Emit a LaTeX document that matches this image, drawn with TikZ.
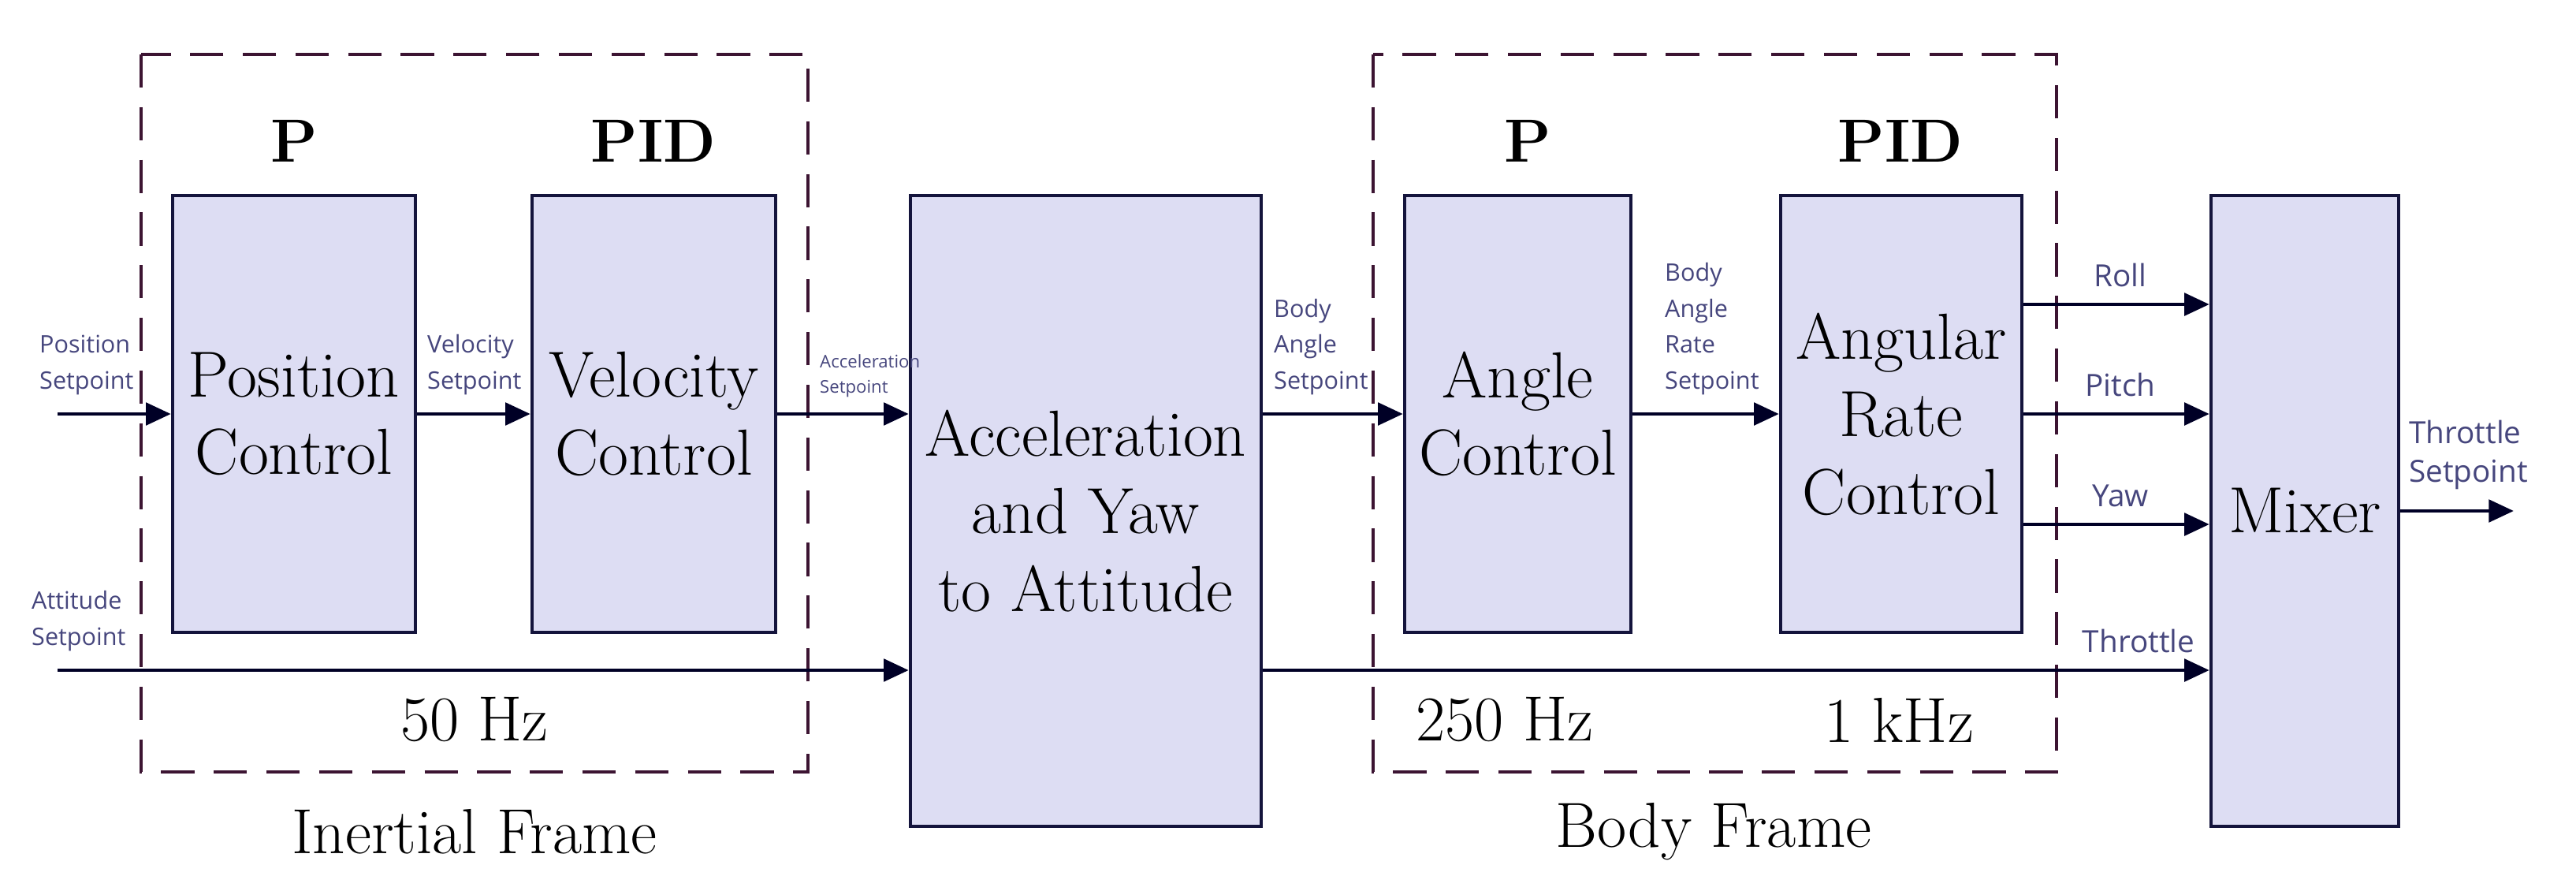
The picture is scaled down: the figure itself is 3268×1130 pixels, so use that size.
\documentclass[tikz,border=0pt]{standalone}
\usepackage{fontspec}
\newfontfamily\lab{Open Sans}
\usetikzlibrary{arrows.meta}
\definecolor{boxfill}{RGB}{221,221,243}
\definecolor{boxline}{RGB}{20,20,60}
\definecolor{labc}{RGB}{70,70,125}
\definecolor{dashc}{RGB}{60,20,50}
\tikzset{
 blk/.style={draw=boxline,fill=boxfill,line width=1.2pt,inner sep=0pt,align=center,font=\fontsize{23.5}{28}\selectfont},
 sig/.style={draw=black!85!blue,line width=1.4pt,-{Triangle[length=9pt,width=8pt]}},
 lbl/.style={text=labc,align=left,font=\lab\fontsize{8.7}{13}\selectfont,inner sep=1pt},
 frm/.style={draw=dashc,dashed,dash pattern=on 12pt off 7pt,line width=1.2pt},
 big/.style={font=\fontsize{23}{28}\selectfont},
 bold/.style={font=\bfseries\fontsize{22}{26}\selectfont}
}
\begin{document}
\begin{tikzpicture}[x=0.01cm,y=-0.01cm]
\useasboundingbox (0,0) rectangle (3268,1130);
\draw[frm] (179,69) rectangle (1025,979);
\draw[frm] (1742,69) rectangle (2609,979);
\node[blk,minimum width=3.08cm,minimum height=5.54cm] (pos) at (373,525) {Position\\Control};
\node[blk,minimum width=3.09cm,minimum height=5.54cm] (vel) at (829.5,525) {Velocity\\Control};
\node[blk,minimum width=4.45cm,minimum height=8.0cm] (acc) at (1377.5,648) {Acceleration\\and Yaw\\to Attitude};
\node[blk,minimum width=2.87cm,minimum height=5.54cm] (ang) at (1925.5,525) {Angle\\Control};
\node[blk,minimum width=3.06cm,minimum height=5.54cm] (rate) at (2412,525) {Angular\\Rate\\Control};
\node[blk,minimum width=2.38cm,minimum height=8.0cm] (mix) at (2924,648) {Mixer};
\coordinate (pin) at (73,525);
\coordinate (ain) at (73,850);
\coordinate (tout) at (3189,648);
\draw[sig] (pin) -- (pos.west);
\draw[sig] (pos.east) -- (vel.west);
\draw[sig] (vel.east) -- (acc.west|-vel.east);
\draw[sig] (ain) -- (acc.west|-ain);
\draw[sig] (acc.east|-ang.west) -- (ang.west);
\draw[sig] (ang.east) -- (rate.west);
\draw[sig] (rate.east|-0,386) -- (mix.west|-0,386);
\draw[sig] (rate.east) -- (mix.west|-rate.east);
\draw[sig] (rate.east|-0,665) -- (mix.west|-0,665);
\draw[sig] (acc.east|-ain) -- (mix.west|-ain);
\draw[sig] (mix.east|-tout) -- (tout);
\node[lbl,anchor=south west] (l1) at (46,505) {Position\\Setpoint};
\node[lbl,anchor=south west] (l2) at (36,830) {Attitude\\Setpoint};
\node[lbl,anchor=south west] (l3) at (538,505) {Velocity\\Setpoint};
\node[lbl,anchor=south west,font=\lab\fontsize{6.3}{9}\selectfont] (l4) at (1036,508) {Acceleration\\Setpoint};
\node[lbl,anchor=south west] (l5) at (1612,505) {Body\\Angle\\Setpoint};
\node[lbl,anchor=south west] (l6) at (2108,505) {Body\\Angle\\Rate\\Setpoint};
\node[lbl,anchor=south,font=\lab\fontsize{11}{14}\selectfont] (l7) at (2690,368) {Roll};
\node[lbl,anchor=south,font=\lab\fontsize{11}{14}\selectfont] (l8) at (2690,507) {Pitch};
\node[lbl,anchor=south,font=\lab\fontsize{11}{14}\selectfont] (l9) at (2690,647) {Yaw};
\node[lbl,anchor=south,font=\lab\fontsize{11}{14}\selectfont] (l10) at (2713,832) {Throttle};
\node[lbl,anchor=south west,font=\lab\fontsize{11}{14}\selectfont] (l11) at (3052,625) {Throttle\\Setpoint};
\node[bold] (t1) at (373,179) {P};
\node[bold] (t2) at (829,179) {PID};
\node[bold] (t3) at (1938,179) {P};
\node[bold] (t4) at (2411,179) {PID};
\node[big] (h1) at (602,913) {50 Hz};
\node[big] (h2) at (1909,913) {250 Hz};
\node[big] (h3) at (2409,913) {1 kHz};
\node[big] (f1) at (602,1055) {Inertial Frame};
\node[big] (f2) at (2174,1055) {Body Frame};
\end{tikzpicture}
\end{document}
